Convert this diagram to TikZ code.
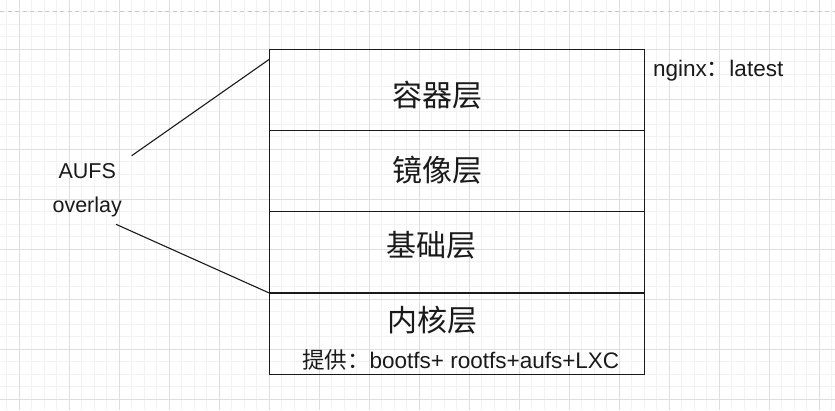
\documentclass[tikz,border=0pt]{standalone}
\usepackage{fontspec}
\setmainfont{Liberation Sans}
\newfontfamily\cjk{Noto Sans CJK SC}
\definecolor{gridminor}{HTML}{F2F2F2}
\definecolor{gridmajor}{HTML}{DEDEDE}
\definecolor{pageline}{HTML}{C8C8C8}
\definecolor{ink}{HTML}{1A1A1A}
\begin{document}
\begin{tikzpicture}[x=1pt,y=-1pt,
  rowbox/.style={draw=ink, line width=1.2pt, minimum width=375pt, minimum height=81.25pt, inner sep=0pt, outer sep=0pt},
  bigcn/.style={inner sep=0pt, anchor=base, font=\cjk\fontsize{30}{33}\selectfont, text=ink},
  smalltxt/.style={inner sep=0pt, font=\fontsize{22.5}{26}\selectfont, text=ink},
  sidetxt/.style={inner sep=0pt, anchor=base, font=\fontsize{21.5}{25}\selectfont, text=ink},
  link/.style={draw=ink, line width=1.1pt}]
\useasboundingbox (0,0) rectangle (835,410);
\fill[white] (0,0) rectangle (835,410);
% grid
\foreach \k in {-1,...,66} {
  \draw[gridminor, line width=0.8pt] ({19.3+12.5*\k},0) -- ({19.3+12.5*\k},410);
}
\foreach \k in {0,...,33} {
  \draw[gridminor, line width=0.8pt] (0,{-0.7+12.5*\k}) -- (835,{-0.7+12.5*\k});
}
\foreach \k in {0,...,16} {
  \draw[gridmajor, line width=0.9pt] ({19.3+50*\k},0) -- ({19.3+50*\k},410);
}
\foreach \k in {1,...,8} {
  \draw[gridmajor, line width=0.9pt] (0,{-0.7+50*\k}) -- (835,{-0.7+50*\k});
}
\draw[pageline, line width=1pt, dash pattern=on 4pt off 3.5pt] (0,11) -- (835,11);
% layers
\node[rowbox] (r1) at (456.8,89.9) {};
\node[rowbox] (r2) at (456.8,171.15) {};
\node[rowbox] (r3) at (456.8,252.4) {};
\node[rowbox] (r4) at (456.8,333.65) {};
\node[bigcn] (t1) at (437.5,106.5) {容器层};
\node[bigcn] (t2) at (437.5,181.5) {镜像层};
\node[bigcn] (t3) at (431,256.5) {基础层};
\node[bigcn] (t4) at (432,331.5) {内核层};
\node[smalltxt, anchor=base west] (prov) at (302,368.3) {{\cjk 提供：}bootfs+ rootfs+aufs+LXC};
\node[smalltxt, anchor=base west] (tag) at (653,76) {nginx{\cjk ：}latest};
\node[sidetxt] (aufs) at (87.3,178.3) {AUFS};
\node[sidetxt] (ovl) at (87.2,212.7) {overlay};
% connectors
\coordinate (l1s) at (131.7,155.7);
\coordinate (l1e) at (269.3,59.3);
\coordinate (l2s) at (116,224.3);
\draw[link] (l1s) -- (l1e);
\draw[link] (l2s) -- (r4.north west);
\end{tikzpicture}
\end{document}
